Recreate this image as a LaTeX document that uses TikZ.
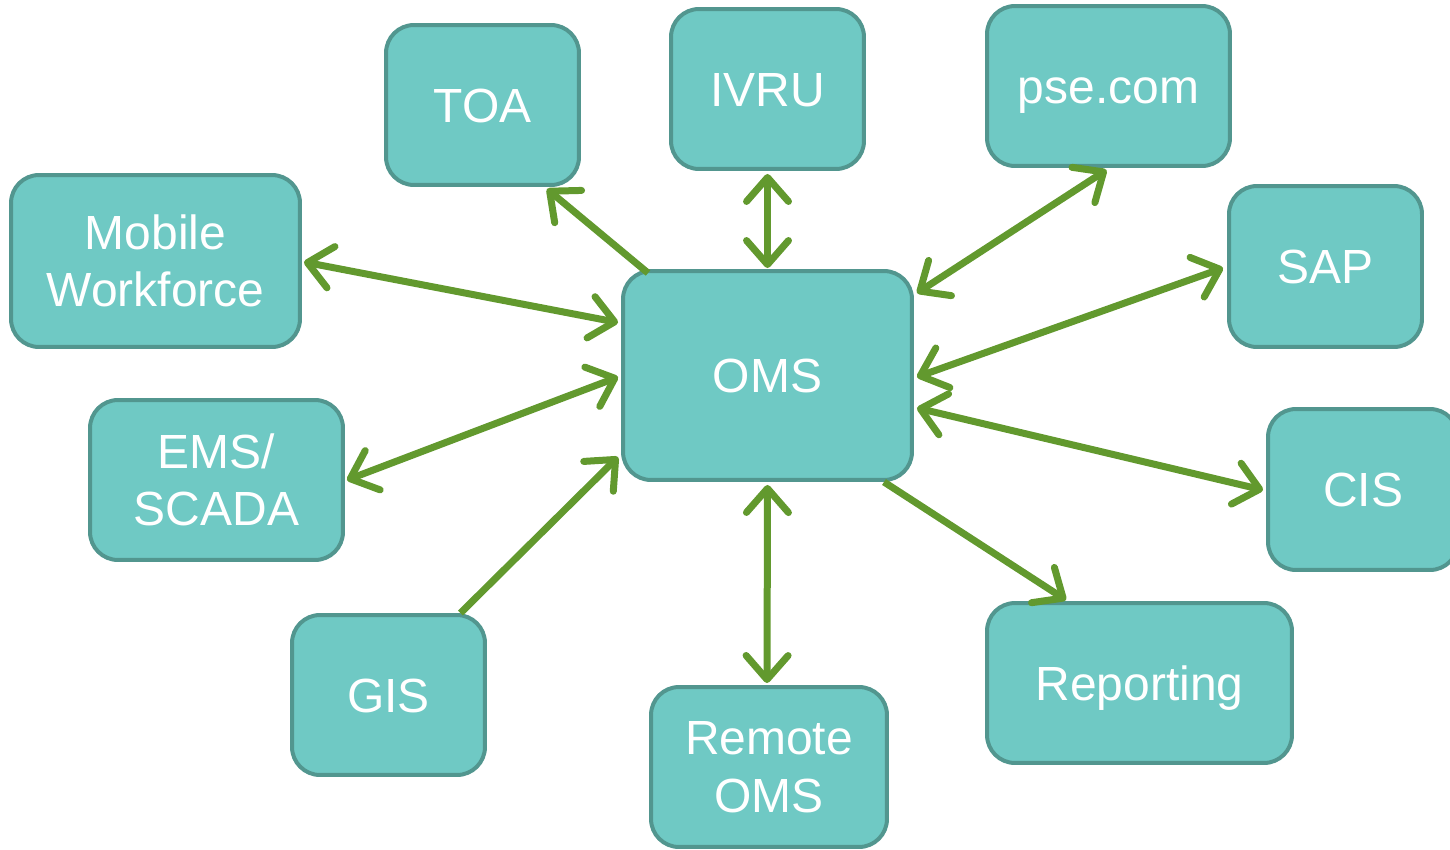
\documentclass[tikz,border=0pt]{standalone}
\usepackage{fontspec}
\setmainfont{Liberation Sans}
\usetikzlibrary{arrows.meta,calc}
\definecolor{boxfill}{HTML}{6FC9C4}
\definecolor{boxline}{HTML}{52968F}
\definecolor{arrgreen}{HTML}{62992E}
\tikzset{
  sysbox/.style={draw=boxline, fill=boxfill, line width=0.08cm, rounded corners=0.56cm,
    text=white, align=center, inner sep=0pt,
    font=\fontsize{27.3}{32.8}\selectfont},
  oneline/.style={text height=19.5pt, text depth=0pt},
  tip/.style={},
  link/.style={draw=arrgreen, line width=0.14cm, line cap=round,
    arrows={Straight Barb[length=0.48cm, width=0.84cm, line cap=round, line join=round]-Straight Barb[length=0.48cm, width=0.84cm, line cap=round, line join=round]}},
  onelink/.style={draw=arrgreen, line width=0.14cm,
    arrows={-Straight Barb[length=0.48cm, width=0.84cm, line cap=round, line join=round]}}
}
\begin{document}
\begin{tikzpicture}[x=0.02cm, y=-0.02cm]
\useasboundingbox (0,0) rectangle (1450,849);
\node[sysbox, oneline, minimum width=3.86cm, minimum height=3.2cm] (toa) at (482.5,105) {TOA};
\node[sysbox, oneline, minimum width=3.86cm, minimum height=3.2cm] (ivru) at (767.5,89) {IVRU};
\node[sysbox, oneline, minimum width=4.86cm, minimum height=3.2cm] (pse) at (1108.5,86) {pse.com};
\node[sysbox, minimum width=5.78cm, minimum height=3.44cm] (mob) at (155.5,261) {Mobile\\Workforce};
\node[sysbox, oneline, minimum width=3.86cm, minimum height=3.22cm] (sap) at (1325.5,266.5) {SAP};
\node[sysbox, oneline, minimum width=5.78cm, minimum height=4.18cm] (oms) at (767.5,375.5) {OMS};
\node[sysbox, minimum width=5.06cm, minimum height=3.2cm] (ems) at (216.5,480) {EMS/\\SCADA};
\node[sysbox, oneline, minimum width=3.8cm, minimum height=3.22cm] (cis) at (1363,489.5) {CIS};
\node[sysbox, oneline, minimum width=3.86cm, minimum height=3.2cm] (gis) at (388.5,695) {GIS};
\node[sysbox, minimum width=4.72cm, minimum height=3.2cm] (rem) at (769,767) {Remote\\OMS};
\node[sysbox, oneline, minimum width=6.1cm, minimum height=3.2cm] (rep) at (1139.5,683) {Reporting};

\draw[onelink] ($(oms.north west)+(27,4)$) -- ($(toa.south east)+(-34,2)$);
\draw[link] ($(ivru.south)+(0,3)$) -- ($(oms.north)+(0,-1)$);
\draw[link] ($(pse.south)+(-2,2)$) -- ($(oms.north east)+(3,24)$);
\draw[link] ($(mob.east)+(2,1)$) -- ($(oms.west)+(-3,-53)$);
\draw[link] ($(sap.west)+(-4,1.5)$) -- ($(oms.east)+(3,1.5)$);
\draw[link] ($(ems.east)+(2,0)$) -- ($(oms.west)+(-3,1.5)$);
\draw[link] ($(cis.west)+(-3,0.5)$) -- ($(oms.east)+(3,32.5)$);
\draw[onelink] ($(gis.north)+(72,0)$) -- ($(oms.south west)+(-3,-25)$);
\draw[link] ($(rem.north)+(-2,-2)$) -- ($(oms.south)+(0,3)$);
\draw[onelink] ($(oms.south east)+(-30,0)$) -- ($(rep.north west)+(81,-1)$);
\end{tikzpicture}
\end{document}
